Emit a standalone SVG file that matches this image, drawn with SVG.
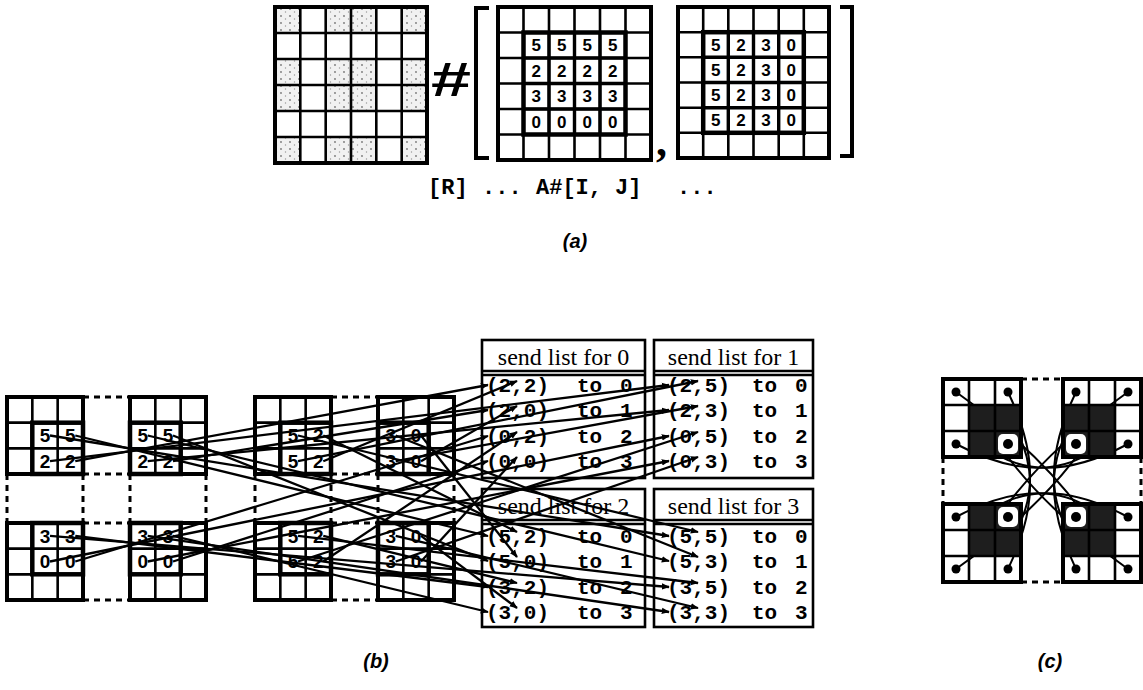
<svg xmlns="http://www.w3.org/2000/svg" width="1143" height="690" viewBox="0 0 1143 690">
<style>
.ob{fill:none;stroke:#000;stroke-width:4}
.ob2{fill:#fff;stroke:#000;stroke-width:4}
.il{fill:none;stroke:#000;stroke-width:2.6}
.inner{fill:none;stroke:#000;stroke-width:4.5}
.num{font-family:"Liberation Sans",Arial,sans-serif;font-weight:bold;font-size:17px;text-anchor:middle}
.bnum{font-family:"Liberation Sans",Arial,sans-serif;font-weight:bold;font-size:19px;text-anchor:middle}
.mono{font-family:"Liberation Mono","Courier New",monospace;font-weight:bold;font-size:21px}
.code{font-family:"Liberation Mono","Courier New",monospace;font-weight:bold;font-size:22px}
.hdr{font-family:"Liberation Serif","Times New Roman",serif;font-size:24px;text-anchor:middle}
.lbl{font-family:"Liberation Sans",Arial,sans-serif;font-style:italic;font-weight:bold;font-size:20px;text-anchor:middle}
.dash{fill:none;stroke:#000;stroke-width:3;stroke-dasharray:6 5}
.conn{fill:none;stroke:#000;stroke-width:2.3;marker-end:url(#ah)}
.cc{fill:none;stroke:#000;stroke-width:2}
.tbl{fill:#fff;stroke:#000;stroke-width:2.6}
.dark{fill:#1e1e1e}
</style>
<defs>
<marker id="ah" viewBox="0 0 10 10" refX="9" refY="5" markerWidth="8" markerHeight="8" markerUnits="userSpaceOnUse" orient="auto"><path d="M0,1 L10,5 L0,9 z" fill="#000"/></marker>
<pattern id="spk" width="9" height="7" patternUnits="userSpaceOnUse"><rect width="9" height="7" fill="#f1f1f1"/><circle cx="2" cy="2" r="0.9" fill="#777"/><circle cx="6.5" cy="5" r="0.7" fill="#999"/></pattern>
<g id="g3"><rect x="0" y="0" width="76" height="77" class="ob2"/><path class="il" d="M25.33,0V77 M50.67,0V77 M0,25.67H76 M0,51.33H76"/></g>
</defs>
<rect width="1143" height="690" fill="#fff"/>

<!-- (a) -->
<g id="a-mask">
<g fill="url(#spk)">
<rect x="275" y="7" width="25.3" height="26"/><rect x="325.7" y="7" width="25.3" height="26"/><rect x="351" y="7" width="25.3" height="26"/><rect x="401.7" y="7" width="25.3" height="26"/>
<rect x="275" y="59" width="25.3" height="26"/><rect x="325.7" y="59" width="25.3" height="26"/><rect x="351" y="59" width="25.3" height="26"/><rect x="401.7" y="59" width="25.3" height="26"/>
<rect x="275" y="85" width="25.3" height="26"/><rect x="325.7" y="85" width="25.3" height="26"/><rect x="351" y="85" width="25.3" height="26"/><rect x="401.7" y="85" width="25.3" height="26"/>
<rect x="275" y="137" width="25.3" height="26"/><rect x="325.7" y="137" width="25.3" height="26"/><rect x="351" y="137" width="25.3" height="26"/><rect x="401.7" y="137" width="25.3" height="26"/>
</g>
<path class="il" d="M300.3,7V163 M325.7,7V163 M351,7V163 M376.3,7V163 M401.7,7V163 M275,33H427 M275,59H427 M275,85H427 M275,111H427 M275,137H427"/>
<rect x="275" y="7" width="152" height="156" class="ob"/>
</g>
<g id="a-hash"><text x="431" y="96" font-family="Liberation Sans, Arial, sans-serif" font-weight="bold" font-size="48" textLength="40" lengthAdjust="spacingAndGlyphs">#</text></g>
<g id="a-brackets"><path class="ob" d="M489,8H476V158H489 M840,7H852V156H840"/></g>
<g id="a-I">
<path class="il" d="M523.5,7V160 M549,7V160 M574.5,7V160 M600,7V160 M625.5,7V160 M498,32.5H651 M498,58H651 M498,83.5H651 M498,109H651 M498,134.5H651"/>
<rect x="523.5" y="32.5" width="102" height="102" class="inner"/>
<path fill="none" stroke="#000" stroke-width="3.4" d="M549,32.5V134.5 M574.5,32.5V134.5 M600,32.5V134.5 M523.5,58H625.5 M523.5,83.5H625.5 M523.5,109H625.5"/>
<rect x="498" y="7" width="153" height="153" class="ob"/>
<g class="num">
<text x="536.3" y="51.3">5</text><text x="561.8" y="51.3">5</text><text x="587.3" y="51.3">5</text><text x="612.8" y="51.3">5</text>
<text x="536.3" y="76.8">2</text><text x="561.8" y="76.8">2</text><text x="587.3" y="76.8">2</text><text x="612.8" y="76.8">2</text>
<text x="536.3" y="102.3">3</text><text x="561.8" y="102.3">3</text><text x="587.3" y="102.3">3</text><text x="612.8" y="102.3">3</text>
<text x="536.3" y="127.8">0</text><text x="561.8" y="127.8">0</text><text x="587.3" y="127.8">0</text><text x="612.8" y="127.8">0</text>
</g>
</g>
<g id="a-comma"><text x="656" y="156" font-family="Liberation Serif, Times New Roman, serif" font-weight="bold" font-size="44">,</text></g>
<g id="a-J">
<path class="il" d="M703.2,7V158 M728.3,7V158 M753.5,7V158 M778.7,7V158 M803.8,7V158 M678,32.2H829 M678,57.3H829 M678,82.5H829 M678,107.7H829 M678,132.8H829"/>
<rect x="703.2" y="32.2" width="100.6" height="100.6" class="inner"/>
<path fill="none" stroke="#000" stroke-width="3.4" d="M728.3,32.2V132.8 M753.5,32.2V132.8 M778.7,32.2V132.8 M703.2,57.3H803.8 M703.2,82.5H803.8 M703.2,107.7H803.8"/>
<rect x="678" y="7" width="151" height="151" class="ob"/>
<g class="num">
<text x="715.8" y="50.8">5</text><text x="740.9" y="50.8">2</text><text x="766.1" y="50.8">3</text><text x="791.3" y="50.8">0</text>
<text x="715.8" y="75.9">5</text><text x="740.9" y="75.9">2</text><text x="766.1" y="75.9">3</text><text x="791.3" y="75.9">0</text>
<text x="715.8" y="101.1">5</text><text x="740.9" y="101.1">2</text><text x="766.1" y="101.1">3</text><text x="791.3" y="101.1">0</text>
<text x="715.8" y="126.3">5</text><text x="740.9" y="126.3">2</text><text x="766.1" y="126.3">3</text><text x="791.3" y="126.3">0</text>
</g>
</g>
<g id="a-code" class="code"><text x="428" y="194">[R]</text><text x="482" y="194">...</text><text x="536" y="194">A#[I,</text><text x="615" y="194">J]</text><text x="677" y="194">...</text></g>
<text class="lbl" x="575" y="248">(a)</text>

<!-- (b) dashed outlines -->
<g id="b-dashes"><path class="dash" d="M83,397H130 M83,474H130 M83,523H130 M83,600H130 M7,474V523 M83,474V523 M130,474V523 M206,474V523 M331,397H378 M331,474H378 M331,523H378 M331,600H378 M255,474V523 M331,474V523 M378,474V523 M454,474V523"/></g>

<!-- (b) grids -->
<g id="I-p0"><use href="#g3" x="7" y="397"/><rect x="32.3" y="422.7" width="50.7" height="51.3" class="inner"/>
<g class="bnum"><text x="45" y="442">5</text><text x="70.3" y="442">5</text><text x="45" y="468">2</text><text x="70.3" y="468">2</text></g></g>
<g id="I-p1"><use href="#g3" x="130" y="397"/><rect x="130" y="422.7" width="50.7" height="51.3" class="inner"/>
<g class="bnum"><text x="142.7" y="442">5</text><text x="168" y="442">5</text><text x="142.7" y="468">2</text><text x="168" y="468">2</text></g></g>
<g id="I-p2"><use href="#g3" x="7" y="523"/><rect x="32.3" y="523" width="50.7" height="51.3" class="inner"/>
<g class="bnum"><text x="45" y="542.5">3</text><text x="70.3" y="542.5">3</text><text x="45" y="568">0</text><text x="70.3" y="568">0</text></g></g>
<g id="I-p3"><use href="#g3" x="130" y="523"/><rect x="130" y="523" width="50.7" height="51.3" class="inner"/>
<g class="bnum"><text x="142.7" y="542.5">3</text><text x="168" y="542.5">3</text><text x="142.7" y="568">0</text><text x="168" y="568">0</text></g></g>
<g id="J-p0"><use href="#g3" x="255" y="397"/><rect x="280.3" y="422.7" width="50.7" height="51.3" class="inner"/>
<g class="bnum"><text x="293" y="442">5</text><text x="318.3" y="442">2</text><text x="293" y="468">5</text><text x="318.3" y="468">2</text></g></g>
<g id="J-p1"><use href="#g3" x="378" y="397"/><rect x="378" y="422.7" width="50.7" height="51.3" class="inner"/>
<g class="bnum"><text x="390.7" y="442">3</text><text x="416" y="442">0</text><text x="390.7" y="468">3</text><text x="416" y="468">0</text></g></g>
<g id="J-p2"><use href="#g3" x="255" y="523"/><rect x="280.3" y="523" width="50.7" height="51.3" class="inner"/>
<g class="bnum"><text x="293" y="542.5">5</text><text x="318.3" y="542.5">2</text><text x="293" y="568">5</text><text x="318.3" y="568">2</text></g></g>
<g id="J-p3"><use href="#g3" x="378" y="523"/><rect x="378" y="523" width="50.7" height="51.3" class="inner"/>
<g class="bnum"><text x="390.7" y="542.5">3</text><text x="416" y="542.5">0</text><text x="390.7" y="568">3</text><text x="416" y="568">0</text></g></g>

<!-- send lists -->
<g id="list0"><rect x="482" y="340" width="163" height="138" class="tbl"/><path class="il" d="M482,371H645 M482,375H645"/>
<text class="hdr" x="563.5" y="365">send list for 0</text>
<text class="mono" y="392"><tspan x="486">(2,2)</tspan><tspan x="577">to</tspan><tspan x="620">0</tspan></text>
<text class="mono" y="417"><tspan x="486">(2,0)</tspan><tspan x="577">to</tspan><tspan x="620">1</tspan></text>
<text class="mono" y="443"><tspan x="486">(0,2)</tspan><tspan x="577">to</tspan><tspan x="620">2</tspan></text>
<text class="mono" y="468"><tspan x="486">(0,0)</tspan><tspan x="577">to</tspan><tspan x="620">3</tspan></text></g>
<g id="list1"><rect x="654" y="340" width="159" height="138" class="tbl"/><path class="il" d="M654,371H813 M654,375H813"/>
<text class="hdr" x="733.5" y="365">send list for 1</text>
<text class="mono" y="392"><tspan x="667">(2,5)</tspan><tspan x="752">to</tspan><tspan x="795">0</tspan></text>
<text class="mono" y="417"><tspan x="667">(2,3)</tspan><tspan x="752">to</tspan><tspan x="795">1</tspan></text>
<text class="mono" y="443"><tspan x="667">(0,5)</tspan><tspan x="752">to</tspan><tspan x="795">2</tspan></text>
<text class="mono" y="468"><tspan x="667">(0,3)</tspan><tspan x="752">to</tspan><tspan x="795">3</tspan></text></g>
<g id="list2"><rect x="482" y="489" width="163" height="138" class="tbl"/><path class="il" d="M482,520H645 M482,524H645"/>
<text class="hdr" x="563.5" y="514">send list for 2</text>
<text class="mono" y="543"><tspan x="486">(5,2)</tspan><tspan x="577">to</tspan><tspan x="620">0</tspan></text>
<text class="mono" y="568"><tspan x="486">(5,0)</tspan><tspan x="577">to</tspan><tspan x="620">1</tspan></text>
<text class="mono" y="594"><tspan x="486">(3,2)</tspan><tspan x="577">to</tspan><tspan x="620">2</tspan></text>
<text class="mono" y="619"><tspan x="486">(3,0)</tspan><tspan x="577">to</tspan><tspan x="620">3</tspan></text></g>
<g id="list3"><rect x="654" y="489" width="159" height="138" class="tbl"/><path class="il" d="M654,520H813 M654,524H813"/>
<text class="hdr" x="733.5" y="514">send list for 3</text>
<text class="mono" y="543"><tspan x="667">(5,5)</tspan><tspan x="752">to</tspan><tspan x="795">0</tspan></text>
<text class="mono" y="568"><tspan x="667">(5,3)</tspan><tspan x="752">to</tspan><tspan x="795">1</tspan></text>
<text class="mono" y="594"><tspan x="667">(3,5)</tspan><tspan x="752">to</tspan><tspan x="795">2</tspan></text>
<text class="mono" y="619"><tspan x="667">(3,3)</tspan><tspan x="752">to</tspan><tspan x="795">3</tspan></text></g>

<!-- (b) connectors -->
<g id="b-connectors">
<path class="conn" d="M50,435.5L669,536"/>
<path class="conn" d="M75.3,435.5L488,536"/>
<path class="conn" d="M147.7,435.5L669,561"/>
<path class="conn" d="M173,435.5L488,561"/>
<path class="conn" d="M50,461.2L669,385"/>
<path class="conn" d="M75.3,461.2L488,385"/>
<path class="conn" d="M147.7,461.2L669,410"/>
<path class="conn" d="M173,461.2L488,410"/>
<path class="conn" d="M50,535.8L669,587"/>
<path class="conn" d="M75.3,535.8L488,587"/>
<path class="conn" d="M147.7,535.8L669,612"/>
<path class="conn" d="M173,535.8L488,612"/>
<path class="conn" d="M50,561.5L669,436"/>
<path class="conn" d="M75.3,561.5L488,436"/>
<path class="conn" d="M147.7,561.5L669,461"/>
<path class="conn" d="M173,561.5L488,461"/>
<path class="conn" d="M298,435.5L698,532"/>
<path class="conn" d="M323.3,435.5L517,532"/>
<path class="conn" d="M395.7,435.5L698,557"/>
<path class="conn" d="M421,435.5L517,557"/>
<path class="conn" d="M298,461.2L698,381"/>
<path class="conn" d="M323.3,461.2L517,381"/>
<path class="conn" d="M395.7,461.2L698,406"/>
<path class="conn" d="M421,461.2L517,406"/>
<path class="conn" d="M298,535.8L698,583"/>
<path class="conn" d="M323.3,535.8L517,583"/>
<path class="conn" d="M395.7,535.8L698,608"/>
<path class="conn" d="M421,535.8L517,608"/>
<path class="conn" d="M298,561.5L698,432"/>
<path class="conn" d="M323.3,561.5L517,432"/>
<path class="conn" d="M395.7,561.5L698,457"/>
<path class="conn" d="M421,561.5L517,457"/>
</g>
<text class="lbl" x="376" y="668">(b)</text>

<!-- (c) -->
<g id="c-dashes"><path class="dash" d="M1021,379H1063 M1021,582H1063 M943,457V504 M1141,457V504"/></g>
<g id="c-connectors">
<path class="cc" d="M956,392Q1058,464.5 1102,543"/>
<path class="cc" d="M1128,569Q1026,496.5 982,418"/>
<path class="cc" d="M1128,392Q1026,464.5 982,543"/>
<path class="cc" d="M956,569Q1058,496.5 1102,418"/>
<path class="cc" d="M956,444Q1045.9,491.5 1102,444"/>
<path class="cc" d="M1128,444Q1038.1,491.5 982,444"/>
<path class="cc" d="M956,517Q1045.9,469.5 1102,517"/>
<path class="cc" d="M1128,517Q1038.1,469.5 982,517"/>
<path class="cc" d="M1008,392Q1052.2,484.4 1008,543"/>
<path class="cc" d="M1008,569Q1052.2,476.6 1008,418"/>
<path class="cc" d="M1076,392Q1031.8,484.4 1076,543"/>
<path class="cc" d="M1076,569Q1031.8,476.6 1076,418"/>
</g>
<g id="c-p0">
<rect x="969" y="405" width="52" height="52" class="dark"/>
<path class="il" d="M969,379V457 M995,379V457 M943,405H1021 M943,431H1021"/>
<rect x="943" y="379" width="78" height="78" class="ob"/>
<rect x="998" y="434" width="20" height="20" rx="5" fill="#fff"/>
<circle cx="1008" cy="444" r="5"/><circle cx="956" cy="392" r="4.5"/><circle cx="1008" cy="392" r="4.5"/><circle cx="956" cy="444" r="4.5"/>
</g>
<g id="c-p1">
<rect x="1063" y="405" width="52" height="52" class="dark"/>
<path class="il" d="M1089,379V457 M1115,379V457 M1063,405H1141 M1063,431H1141"/>
<rect x="1063" y="379" width="78" height="78" class="ob"/>
<rect x="1066" y="434" width="20" height="20" rx="5" fill="#fff"/>
<circle cx="1076" cy="444" r="5"/><circle cx="1076" cy="392" r="4.5"/><circle cx="1128" cy="392" r="4.5"/><circle cx="1128" cy="444" r="4.5"/>
</g>
<g id="c-p2">
<rect x="969" y="504" width="52" height="52" class="dark"/>
<path class="il" d="M969,504V582 M995,504V582 M943,530H1021 M943,556H1021"/>
<rect x="943" y="504" width="78" height="78" class="ob"/>
<rect x="998" y="507" width="20" height="20" rx="5" fill="#fff"/>
<circle cx="1008" cy="517" r="5"/><circle cx="956" cy="517" r="4.5"/><circle cx="956" cy="569" r="4.5"/><circle cx="1008" cy="569" r="4.5"/>
</g>
<g id="c-p3">
<rect x="1063" y="504" width="52" height="52" class="dark"/>
<path class="il" d="M1089,504V582 M1115,504V582 M1063,530H1141 M1063,556H1141"/>
<rect x="1063" y="504" width="78" height="78" class="ob"/>
<rect x="1066" y="507" width="20" height="20" rx="5" fill="#fff"/>
<circle cx="1076" cy="517" r="5"/><circle cx="1128" cy="517" r="4.5"/><circle cx="1076" cy="569" r="4.5"/><circle cx="1128" cy="569" r="4.5"/>
</g>
<text class="lbl" x="1050" y="668">(c)</text>
</svg>
